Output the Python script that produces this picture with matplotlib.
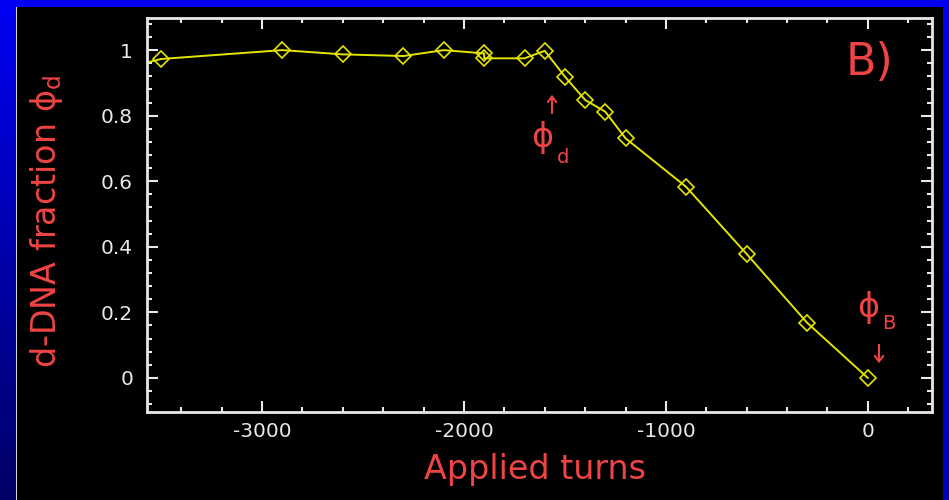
import numpy as np
import matplotlib
matplotlib.use("Agg")
import matplotlib.pyplot as plt
from matplotlib.patches import FancyArrowPatch
from matplotlib.ticker import MultipleLocator

# Supercoiling series: fraction of denatured DNA versus applied turns
turns = [-3650, -3500, -2900, -2600, -2300, -2100, -1900, -1900, -1700, -1600,
         -1500, -1400, -1300, -1200, -900, -600, -300, 0]
ddna_fraction = [0.95, 0.973, 1.0, 0.987, 0.982, 1.0, 0.99, 0.975, 0.975, 0.998,
                 0.919, 0.848, 0.812, 0.731, 0.583, 0.378, 0.168, 0.0]

x_ticks = [-3000, -2000, -1000, 0]
x_tick_labels = ["-3000", "-2000", "-1000", "0"]
y_ticks = [0, 0.2, 0.4, 0.6, 0.8, 1.0]
y_tick_labels = ["0", "0.2", "0.4", "0.6", "0.8", "1"]

plt.rcParams["mathtext.fontset"] = "dejavusans"
plt.rcParams["font.family"] = ["DejaVu Sans"]

W, H = 949, 500
RED = "#f04444"
YELLOW = "#e4e400"
WHITE = "#e8e8e8"

fig = plt.figure(figsize=(W / 100, H / 100), dpi=100)
fig.patch.set_facecolor("black")

# slide frame: blue band on top, blue gradient strips on the sides
frame = np.zeros((H, W, 3))
t = np.linspace(0, 1, H)[:, None]
frame[:, :16, 2] = (0.96 * (1 - t) + 0.40 * t)
frame[:, 943:, 2] = (0.96 * (1 - t) + 0.75 * t)
frame[:7, :, 2] = 0.96
frame[7:, 16, :] = 0.85
bg = fig.add_axes([0, 0, 1, 1], zorder=-5)
bg.imshow(frame, aspect="auto", interpolation="nearest")
bg.set_axis_off()

ax = fig.add_axes([147 / W, (H - 412) / H, (932 - 147) / W, (412 - 18) / H])
ax.set_facecolor("black")
ax.plot(turns, ddna_fraction, color=YELLOW, lw=1.4, marker="D", ms=8.5,
        mfc="none", mec=YELLOW, mew=1.2)
ax.set_xlim(-3570, 318)
ax.set_ylim(-0.104, 1.098)

ax.set_xticks(x_ticks, x_tick_labels)
ax.set_yticks(y_ticks, y_tick_labels)
ax.xaxis.set_minor_locator(MultipleLocator(200))
ax.yaxis.set_minor_locator(MultipleLocator(0.04))
ax.tick_params(which="both", direction="in", top=True, right=True,
               color=WHITE, labelcolor=WHITE, width=1.5)
ax.tick_params(which="major", length=8, labelsize=14.5)
ax.tick_params(which="minor", length=3.5)
ax.tick_params(axis="x", which="major", pad=7)
ax.tick_params(axis="y", which="major", pad=10)
for s in ax.spines.values():
    s.set_color(WHITE)
    s.set_linewidth(2)


def px(x, y):
    return x / W, 1 - y / H


# axis titles
fig.text(*px(535, 479), "Applied turns", color=RED, fontsize=24,
         ha="center", va="baseline")
fig.text(*px(56, 221), r"d-DNA fraction $\mathregular{ϕ_d}$", color=RED, fontsize=24,
         rotation=90, rotation_mode="anchor", ha="center", va="baseline")

# panel tag
fig.text(*px(846, 75), "B)", color=RED, fontsize=32, ha="left", va="baseline")

# marker for the onset of denaturation
fig.text(*px(531, 147), "ϕ", color=RED, fontsize=24, ha="left", va="baseline")
fig.text(*px(557, 163), "d", color=RED, fontsize=14, ha="left", va="baseline")
fig.add_artist(FancyArrowPatch(
    px(552, 116), px(552, 92), transform=fig.transFigure,
    arrowstyle="->,head_length=4,head_width=3", color=RED, lw=1.5))

# marker for fully relaxed B-DNA
fig.text(*px(857, 317), "ϕ", color=RED, fontsize=24, ha="left", va="baseline")
fig.text(*px(882, 329), "B", color=RED, fontsize=14, ha="left", va="baseline")
fig.add_artist(FancyArrowPatch(
    px(879, 342), px(879, 366), transform=fig.transFigure,
    arrowstyle="->,head_length=4,head_width=3", color=RED, lw=1.5))

fig.savefig("out.png", dpi=100, facecolor=fig.get_facecolor())
